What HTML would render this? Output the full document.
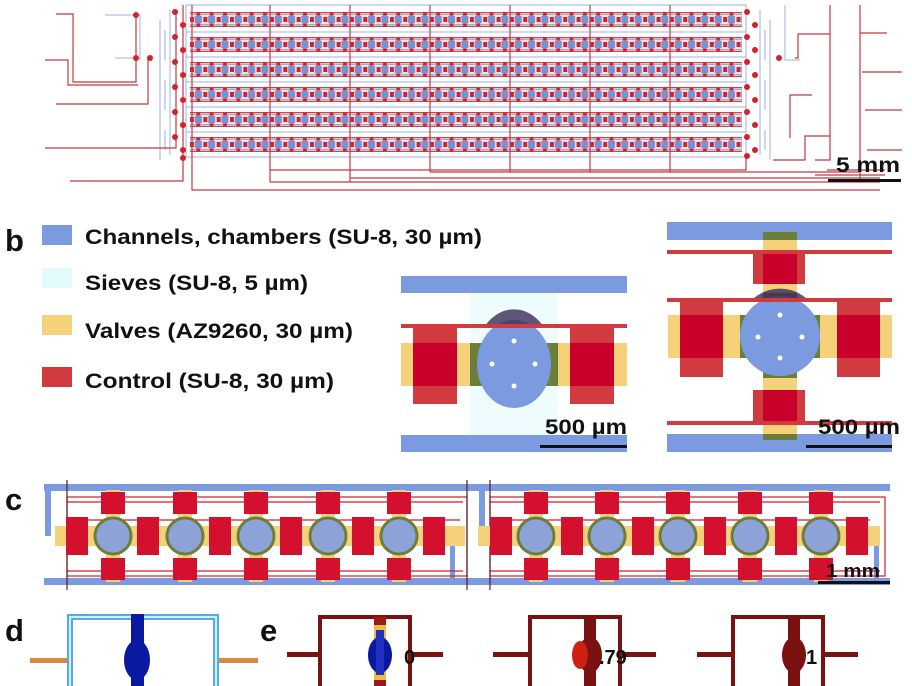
<!DOCTYPE html>
<html><head><meta charset="utf-8"><style>
html,body{margin:0;padding:0;background:#fff;}
svg{display:block;}
text{font-family:"Liberation Sans",Arial,sans-serif;font-weight:bold;fill:#111;}
</style></head><body>
<svg width="912" height="686" viewBox="0 0 912 686" xmlns="http://www.w3.org/2000/svg">
<defs>
<pattern id="cell" patternUnits="userSpaceOnUse" x="190" y="12" width="13.33" height="25">
  <rect x="0" y="0" width="13.33" height="15" fill="#f3e2e6"/>
  <line x1="0" y1="0.6" x2="13.33" y2="0.6" stroke="#c44" stroke-width="1.2"/>
  <line x1="0" y1="14.4" x2="13.33" y2="14.4" stroke="#c44" stroke-width="1.2"/>
  <line x1="0" y1="2.4" x2="13.33" y2="2.4" stroke="#8aa3d8" stroke-width="0.9"/>
  <line x1="0" y1="12.6" x2="13.33" y2="12.6" stroke="#8aa3d8" stroke-width="0.9"/>
  <rect x="4.8" y="3.8" width="7" height="7.4" fill="#7893d2"/>
  <rect x="0" y="5" width="4" height="5" fill="#d3222c"/>
  <rect x="6.4" y="0.6" width="3.8" height="3" fill="#d3222c"/>
  <rect x="6.4" y="11.4" width="3.8" height="3" fill="#d3222c"/>
</pattern>
</defs>
<rect width="912" height="686" fill="#fff"/>

<!-- PANEL A -->
<rect x="190" y="12" width="552" height="15" fill="url(#cell)"/>
<rect x="190" y="37" width="552" height="15" fill="url(#cell)"/>
<rect x="190" y="62" width="552" height="15" fill="url(#cell)"/>
<rect x="190" y="87" width="552" height="15" fill="url(#cell)"/>
<rect x="190" y="112" width="552" height="15" fill="url(#cell)"/>
<rect x="190" y="137" width="552" height="15" fill="url(#cell)"/>
<g stroke="#9fb2e0" stroke-width="1" fill="none">
  <rect x="186" y="5" width="560" height="152"/>
  <line x1="186" y1="32" x2="746" y2="32"/><line x1="186" y1="57" x2="746" y2="57"/>
  <line x1="186" y1="82" x2="746" y2="82"/><line x1="186" y1="107" x2="746" y2="107"/>
  <line x1="186" y1="132" x2="746" y2="132"/>
  <path d="M170 10 V155 M165 30 V60 M165 80 V110 M165 130 V150 M160 20 V160"/>
  <path d="M760 10 V155 M765 30 V60 M765 80 V110 M765 130 V150 M770 20 V160"/>
  <path d="M105 15 H140 V60 M115 58 H140"/>
  <path d="M785 5 V60 H795 M790 60 H800"/>
</g>
<g stroke="#c0393f" stroke-width="1.2" fill="none">
  <path d="M270 5 V182 M350 5 V182 M430 5 V172 M510 5 V172 M590 5 V172 M670 5 V172"/>
  <path d="M192 5 V190 H880"/>
  <path d="M56 14 H73 V82 H136 V15"/>
  <path d="M45 60 H68 V85 H138"/>
  <path d="M56 104 H148 V58"/>
  <path d="M45 148 H176 V10"/>
  <path d="M70 181 H183 V5"/>
  <path d="M746 158 V170 H270 M350 178 H880 M270 182 H880 M430 172 H860"/>
  <path d="M830 5 V160 H815 M827 170 H885 M815 175 H885"/>
  <path d="M860 33 H887 M862 72 H902 M865 110 H902 M867 150 H902 M860 5 V180"/>
  <path d="M795 58 H798 V34 H830 M790 138 H790 V95 H812 M773 160 H805 V136 H830"/>
</g>
<g fill="#d3222c">
  <circle cx="136" cy="15" r="3"/><circle cx="136" cy="58" r="3"/><circle cx="150" cy="58" r="3"/>
  <circle cx="175" cy="12" r="3"/><circle cx="183" cy="25" r="3"/><circle cx="175" cy="37" r="3"/><circle cx="183" cy="50" r="3"/>
  <circle cx="175" cy="62" r="3"/><circle cx="183" cy="75" r="3"/><circle cx="175" cy="87" r="3"/><circle cx="183" cy="100" r="3"/>
  <circle cx="175" cy="112" r="3"/><circle cx="183" cy="125" r="3"/><circle cx="175" cy="137" r="3"/><circle cx="183" cy="150" r="3"/><circle cx="183" cy="158" r="3"/>
  <circle cx="747" cy="12" r="3"/><circle cx="755" cy="25" r="3"/><circle cx="747" cy="37" r="3"/><circle cx="755" cy="50" r="3"/>
  <circle cx="747" cy="62" r="3"/><circle cx="755" cy="75" r="3"/><circle cx="747" cy="87" r="3"/><circle cx="755" cy="100" r="3"/>
  <circle cx="747" cy="112" r="3"/><circle cx="755" cy="125" r="3"/><circle cx="747" cy="137" r="3"/><circle cx="755" cy="150" r="3"/><circle cx="747" cy="156" r="3"/>
  <circle cx="779" cy="58" r="3"/>
</g>
<text x="836" y="172" font-size="21" textLength="64" lengthAdjust="spacingAndGlyphs">5 mm</text>
<rect x="828" y="179" width="73" height="3" fill="#111"/>

<!-- PANEL B -->
<text x="5" y="251" font-size="31">b</text>
<rect x="42" y="225" width="30" height="20" fill="#7b9ae0"/>
<rect x="42" y="268" width="30" height="20" fill="#e4fbfd"/>
<rect x="42" y="315" width="30" height="20" fill="#f5d27a"/>
<rect x="42" y="367" width="30" height="20" fill="#d13a3f"/>
<text x="85" y="244" font-size="21" textLength="397" lengthAdjust="spacingAndGlyphs">Channels, chambers (SU-8, 30 µm)</text>
<text x="85" y="290" font-size="21" textLength="223" lengthAdjust="spacingAndGlyphs">Sieves (SU-8, 5 µm)</text>
<text x="85" y="338" font-size="21" textLength="268" lengthAdjust="spacingAndGlyphs">Valves (AZ9260, 30 µm)</text>
<text x="85" y="388" font-size="21" textLength="249" lengthAdjust="spacingAndGlyphs">Control (SU-8, 30 µm)</text>

<!-- middle diagram -->
<rect x="470" y="293" width="88" height="142" fill="#eefcfd"/>
<rect x="401" y="276" width="226" height="17" fill="#7b9ae0"/>
<rect x="401" y="435" width="226" height="17" fill="#7b9ae0"/>
<rect x="401" y="343" width="226" height="43" fill="#f5d27a"/>
<rect x="470" y="343" width="88" height="43" fill="#6b7f3a"/>
<ellipse cx="514" cy="364" rx="37" ry="44" fill="#7b9ae0"/>
<path d="M485 326 A37 44 0 0 1 543 326 Z" fill="#3a2a55" opacity="0.8"/>
<rect x="401" y="324" width="226" height="4" fill="#d13a3f"/>
<rect x="413" y="327" width="44" height="77" fill="#d13a3f"/>
<rect x="413" y="343" width="44" height="43" fill="#c8002a"/>
<rect x="570" y="327" width="44" height="77" fill="#d13a3f"/>
<rect x="570" y="343" width="44" height="43" fill="#c8002a"/>
<g fill="#fff"><circle cx="514" cy="341" r="2.5"/><circle cx="492" cy="364" r="2.5"/><circle cx="535" cy="364" r="2.5"/><circle cx="514" cy="386" r="2.5"/></g>
<text x="545" y="434" font-size="21" textLength="82" lengthAdjust="spacingAndGlyphs">500 µm</text>
<rect x="540" y="445" width="87" height="3" fill="#111"/>

<!-- right diagram -->
<rect x="667" y="222" width="225" height="18" fill="#7b9ae0"/>
<rect x="667" y="434" width="225" height="18" fill="#7b9ae0"/>
<rect x="763" y="232" width="34" height="208" fill="#f5d27a"/>
<rect x="763" y="232" width="34" height="8" fill="#6b7f3a"/>
<rect x="763" y="434" width="34" height="6" fill="#6b7f3a"/>
<rect x="668" y="315" width="224" height="43" fill="#f5d27a"/>
<rect x="740" y="315" width="80" height="43" fill="#6b7f3a"/>
<rect x="763" y="293" width="34" height="85" fill="#6b7f3a"/>
<circle cx="780" cy="336" r="40" fill="#7b9ae0"/>
<path d="M752 300 A40 40 0 0 1 808 300 Z" fill="#3a2a55" opacity="0.8"/>
<rect x="667" y="250" width="225" height="4" fill="#d13a3f"/>
<rect x="753" y="254" width="52" height="30" fill="#d13a3f"/>
<rect x="763" y="254" width="34" height="30" fill="#c8002a"/>
<rect x="667" y="298" width="225" height="4" fill="#d13a3f"/>
<rect x="680" y="300" width="43" height="77" fill="#d13a3f"/>
<rect x="680" y="315" width="43" height="43" fill="#c8002a"/>
<rect x="837" y="300" width="43" height="77" fill="#d13a3f"/>
<rect x="837" y="315" width="43" height="43" fill="#c8002a"/>
<rect x="753" y="390" width="52" height="32" fill="#d13a3f"/>
<rect x="763" y="390" width="34" height="32" fill="#c8002a"/>
<rect x="667" y="421" width="225" height="4" fill="#d13a3f"/>
<g fill="#fff"><circle cx="780" cy="315" r="2.5"/><circle cx="758" cy="337" r="2.5"/><circle cx="802" cy="337" r="2.5"/><circle cx="780" cy="358" r="2.5"/></g>
<text x="818" y="434" font-size="21" textLength="82" lengthAdjust="spacingAndGlyphs">500 µm</text>
<rect x="806" y="445" width="86" height="3" fill="#111"/>

<!-- PANEL C -->
<text x="5" y="510" font-size="31">c</text>
<rect x="44" y="484" width="846" height="7" fill="#7b9ae0"/>
<rect x="44" y="578" width="846" height="7" fill="#7b9ae0"/>
<rect x="45" y="484" width="6" height="52" fill="#7b9ae0"/>
<rect x="479" y="484" width="6" height="52" fill="#7b9ae0"/>
<rect x="450" y="540" width="5" height="44" fill="#7b9ae0"/>
<rect x="874" y="540" width="5" height="44" fill="#7b9ae0"/>
<g stroke="#c8202a" stroke-width="1.2" fill="none">
  <rect x="67" y="497" width="400" height="79"/>
  <rect x="490" y="497" width="395" height="79"/>
  <line x1="67" y1="520" x2="460" y2="520"/><line x1="490" y1="520" x2="870" y2="520"/>
  <line x1="67" y1="502" x2="463" y2="502"/><line x1="490" y1="502" x2="880" y2="502"/>
  <line x1="67" y1="571" x2="463" y2="571"/><line x1="490" y1="571" x2="880" y2="571"/>
</g>
<g stroke="#5a1a20" stroke-width="1.2"><line x1="67" y1="480" x2="67" y2="590"/><line x1="467" y1="480" x2="467" y2="590"/><line x1="490" y1="480" x2="490" y2="590"/></g>
<rect x="55" y="526" width="410" height="20" fill="#f5d27a"/>
<rect x="478" y="526" width="402" height="20" fill="#f5d27a"/>
<g fill="#f5d27a">
  <rect x="106" y="490" width="14" height="92"/><rect x="178" y="490" width="14" height="92"/><rect x="249" y="490" width="14" height="92"/><rect x="321" y="490" width="14" height="92"/><rect x="392" y="490" width="14" height="92"/>
  <rect x="529" y="490" width="14" height="92"/><rect x="600" y="490" width="14" height="92"/><rect x="671" y="490" width="14" height="92"/><rect x="743" y="490" width="14" height="92"/><rect x="814" y="490" width="14" height="92"/>
</g>
<g fill="#d3102e">
  <rect x="66" y="517" width="22" height="38"/><rect x="137" y="517" width="22" height="38"/><rect x="209" y="517" width="22" height="38"/><rect x="280" y="517" width="22" height="38"/><rect x="352" y="517" width="22" height="38"/><rect x="423" y="517" width="22" height="38"/>
  <rect x="490" y="517" width="22" height="38"/><rect x="561" y="517" width="22" height="38"/><rect x="632" y="517" width="22" height="38"/><rect x="704" y="517" width="22" height="38"/><rect x="775" y="517" width="22" height="38"/><rect x="846" y="517" width="22" height="38"/>
  <rect x="101" y="492" width="24" height="22"/><rect x="173" y="492" width="24" height="22"/><rect x="244" y="492" width="24" height="22"/><rect x="316" y="492" width="24" height="22"/><rect x="387" y="492" width="24" height="22"/>
  <rect x="524" y="492" width="24" height="22"/><rect x="595" y="492" width="24" height="22"/><rect x="666" y="492" width="24" height="22"/><rect x="738" y="492" width="24" height="22"/><rect x="809" y="492" width="24" height="22"/>
  <rect x="101" y="558" width="24" height="22"/><rect x="173" y="558" width="24" height="22"/><rect x="244" y="558" width="24" height="22"/><rect x="316" y="558" width="24" height="22"/><rect x="387" y="558" width="24" height="22"/>
  <rect x="524" y="558" width="24" height="22"/><rect x="595" y="558" width="24" height="22"/><rect x="666" y="558" width="24" height="22"/><rect x="738" y="558" width="24" height="22"/><rect x="809" y="558" width="24" height="22"/>
</g>
<g fill="#8da3d8" stroke="#6b7f3a" stroke-width="3">
  <circle cx="113" cy="536" r="18"/><circle cx="185" cy="536" r="18"/><circle cx="256" cy="536" r="18"/><circle cx="328" cy="536" r="18"/><circle cx="399" cy="536" r="18"/>
  <circle cx="536" cy="536" r="18"/><circle cx="607" cy="536" r="18"/><circle cx="678" cy="536" r="18"/><circle cx="750" cy="536" r="18"/><circle cx="821" cy="536" r="18"/>
</g>
<text x="826" y="577" font-size="18" textLength="54" lengthAdjust="spacingAndGlyphs">1 mm</text>
<rect x="818" y="581" width="72" height="3" fill="#111"/>

<!-- PANEL D -->
<text x="5" y="641" font-size="31">d</text>
<rect x="30" y="658" width="40" height="5" fill="#d98a40"/>
<rect x="216" y="658" width="42" height="5" fill="#d98a40"/>
<path d="M70 686 V617 H216 V686" fill="none" stroke="#5aa8e8" stroke-width="6"/>
<path d="M70 686 V617 H216 V686" fill="none" stroke="#c8f4f6" stroke-width="2"/>
<rect x="131" y="614" width="13" height="72" fill="#0a1aa0"/>
<ellipse cx="137" cy="660" rx="13" ry="20" fill="#0a1aa0"/>

<!-- PANEL E -->
<text x="260" y="641" font-size="31">e</text>
<g fill="none" stroke="#7a1212" stroke-width="4">
  <rect x="320" y="617" width="90" height="72"/>
  <rect x="530" y="617" width="90" height="72"/>
  <rect x="733" y="617" width="90" height="72"/>
</g>
<g fill="#7a1212">
  <rect x="287" y="652" width="33" height="5"/><rect x="410" y="652" width="33" height="5"/>
  <rect x="493" y="652" width="37" height="5"/><rect x="620" y="652" width="36" height="5"/>
  <rect x="697" y="652" width="36" height="5"/><rect x="823" y="652" width="35" height="5"/>
  <rect x="374" y="617" width="12" height="72" fill="#a01818"/>
  <rect x="584" y="617" width="12" height="72"/>
  <rect x="788" y="617" width="12" height="72"/>
  <ellipse cx="590" cy="655" rx="12" ry="18"/>
  <ellipse cx="794" cy="655" rx="12" ry="18"/>
</g>
<rect x="374" y="625" width="12" height="55" fill="#e8c040"/>
<ellipse cx="380" cy="655" rx="12" ry="18" fill="#0a1aa0"/>
<rect x="376" y="630" width="8" height="45" fill="#2030c0"/>
<ellipse cx="580" cy="655" rx="8" ry="14" fill="#d02010"/>
<text x="404" y="664" font-size="20">0</text>
<text x="599" y="664" font-size="20">.79</text>
<text x="806" y="664" font-size="20">1</text>
</svg>
</body></html>
